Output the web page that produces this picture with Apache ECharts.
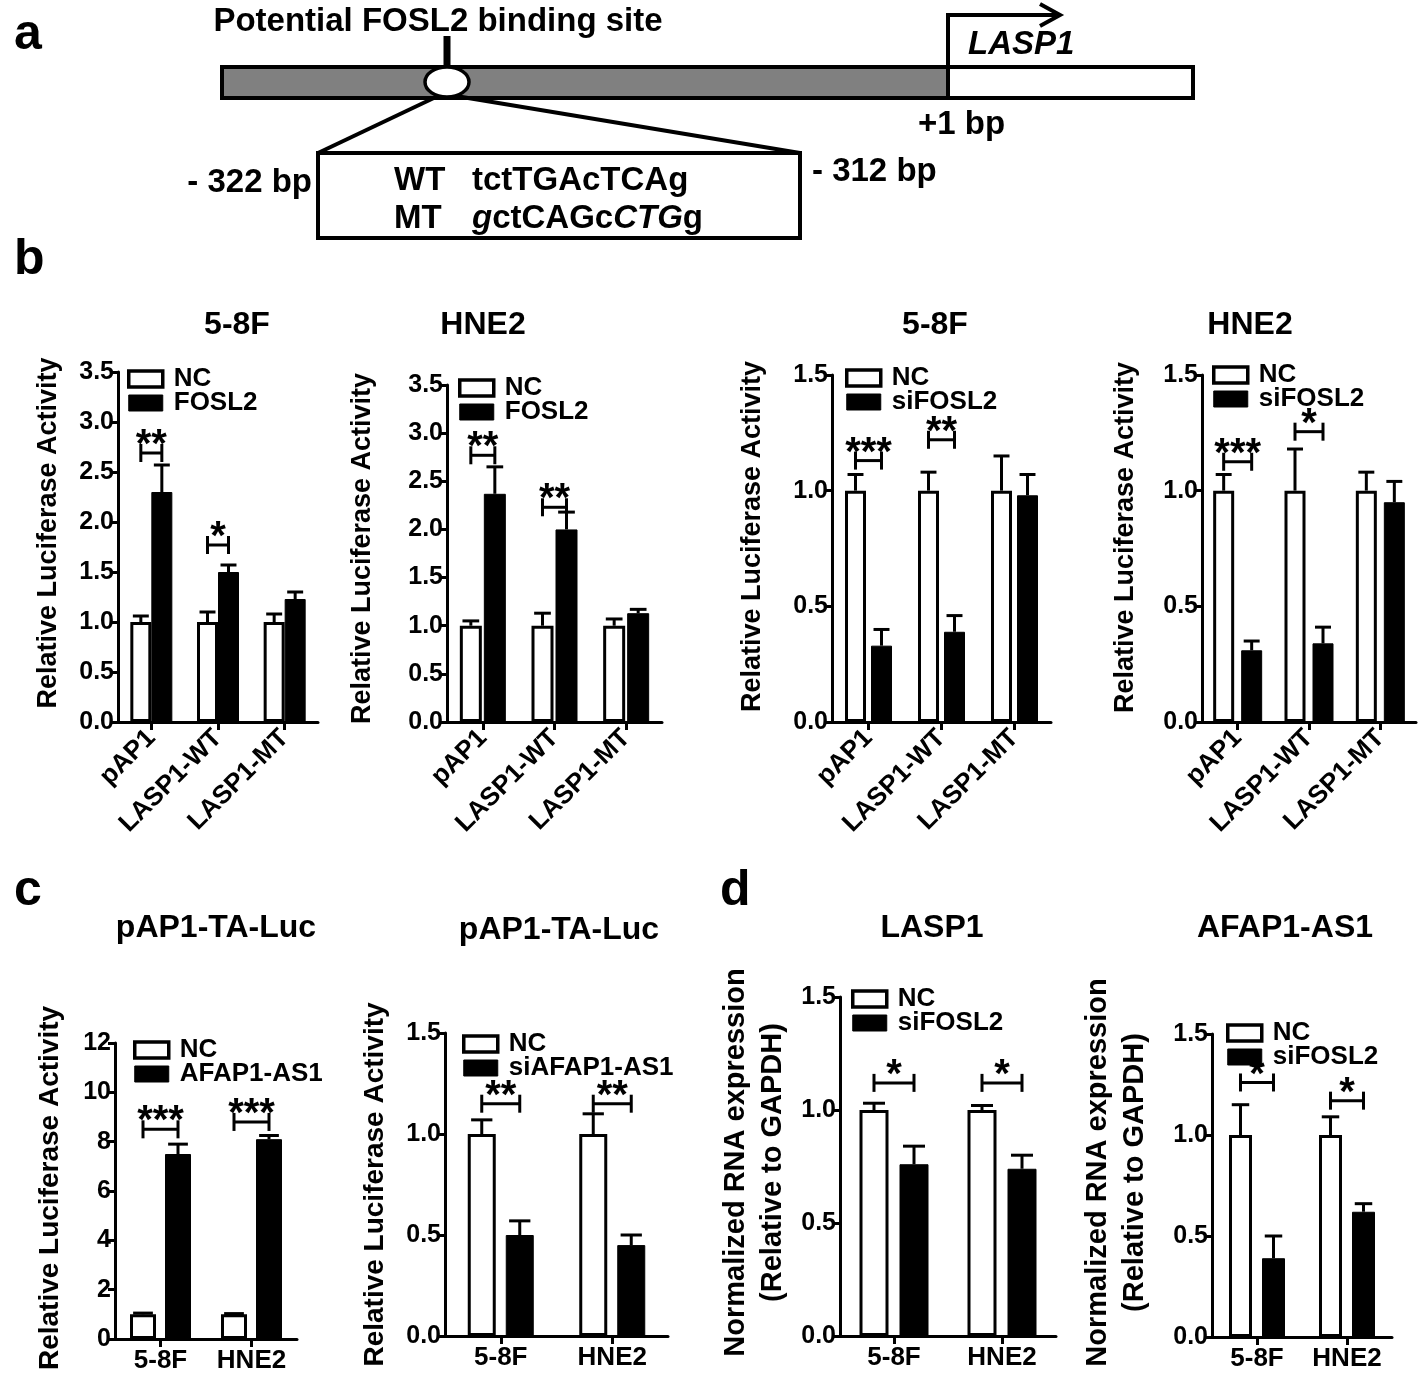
<!DOCTYPE html>
<html><head><meta charset="utf-8">
<script src="https://cdn.jsdelivr.net/npm/echarts@6/dist/echarts.min.js"></script>
<style>html,body{margin:0;padding:0;background:#fff}#c{width:1418px;height:1374px}</style>
</head><body><div id="c"></div>
<script>
// ---------- DATA ----------
const catsB = ['pAP1', 'LASP1-WT', 'LASP1-MT'];
const catsCD = ['5-8F', 'HNE2'];

// b1: 5-8F, NC vs FOSL2
const b1NC = [1.00, 1.00, 1.00];   const b1NCErr = [0.06, 0.10, 0.08];
const b1Tr = [2.30, 1.50, 1.23];   const b1TrErr = [0.27, 0.07, 0.07];
const b1Sig = [[0, 2.69, '**'], [1, 1.77, '*']];
// b2: HNE2, NC vs FOSL2
const b2NC = [1.00, 1.00, 1.00];   const b2NCErr = [0.05, 0.13, 0.07];
const b2Tr = [2.37, 2.00, 1.13];   const b2TrErr = [0.28, 0.18, 0.04];
const b2Sig = [[0, 2.77, '**'], [1, 2.23, '**']];
// b3: 5-8F, NC vs siFOSL2
const b3NC = [1.00, 1.00, 1.00];   const b3NCErr = [0.07, 0.08, 0.15];
const b3Tr = [0.33, 0.39, 0.98];   const b3TrErr = [0.07, 0.07, 0.09];
const b3Sig = [[0, 1.13, '***'], [1, 1.22, '**']];
// b4: HNE2, NC vs siFOSL2
const b4NC = [1.00, 1.00, 1.00];   const b4NCErr = [0.07, 0.18, 0.08];
const b4Tr = [0.31, 0.34, 0.95];   const b4TrErr = [0.04, 0.07, 0.09];
const b4Sig = [[0, 1.125, '***'], [1, 1.255, '*']];
// c1: pAP1-TA-Luc, NC vs AFAP1-AS1
const c1NC = [1.00, 1.00];         const c1NCErr = [0.05, 0.03];
const c1Tr = [7.50, 8.10];         const c1TrErr = [0.40, 0.15];
const c1Sig = [[0, 8.5, '***'], [1, 8.8, '***']];
// c2: pAP1-TA-Luc, NC vs siAFAP1-AS1
const c2NC = [1.00, 1.00];         const c2NCErr = [0.07, 0.10];
const c2Tr = [0.50, 0.45];         const c2TrErr = [0.07, 0.05];
const c2Sig = [[0, 1.15, '**'], [1, 1.15, '**']];
// d1: LASP1, NC vs siFOSL2
const d1NC = [1.00, 1.00];         const d1NCErr = [0.03, 0.02];
const d1Tr = [0.76, 0.74];         const d1TrErr = [0.08, 0.06];
const d1Sig = [[0, 1.12, '*'], [1, 1.12, '*']];
// d2: AFAP1-AS1, NC vs siFOSL2
const d2NC = [1.00, 1.00];         const d2NCErr = [0.15, 0.09];
const d2Tr = [0.39, 0.62];         const d2TrErr = [0.11, 0.04];
const d2Sig = [[0, 1.26, '*'], [1, 1.17, '*']];

// ---------- LAYOUT ----------
const FONT = '"Liberation Sans", Arial, Helvetica, sans-serif';
const LUC = 'Relative Luciferase Activity';
const RNA = 'Normalized RNA expression\n(Relative to GAPDH)';
const panels = [
  {title:'5-8F', tx:237, ty:325, cats:catsB, nc:b1NC, ncErr:b1NCErr, tr:b1Tr, trErr:b1TrErr, trName:'FOSL2', sig:b1Sig,
   max:3.5, interval:0.5, dec:1, grid:[118,372,200,350], w:21, gap:0, rotate:45, yName:LUC, nameSize:27, nameGap:51, nameShift:28, leg:[127,366]},
  {title:'HNE2', tx:483, ty:325, cats:catsB, nc:b2NC, ncErr:b2NCErr, tr:b2Tr, trErr:b2TrErr, trName:'FOSL2', sig:b2Sig,
   max:3.5, interval:0.5, dec:1, grid:[447,385,215,337], w:22, gap:2, rotate:45, yName:LUC, nameSize:27, nameGap:66, nameShift:10, leg:[458,375]},
  {title:'5-8F', tx:935, ty:325, cats:catsB, nc:b3NC, ncErr:b3NCErr, tr:b3Tr, trErr:b3TrErr, trName:'siFOSL2', sig:b3Sig,
   max:1.5, interval:0.5, dec:1, grid:[832,375,219,347], w:21, gap:5, rotate:45, yName:LUC, nameSize:27, nameGap:61, nameShift:24, leg:[845,365]},
  {title:'HNE2', tx:1250, ty:325, cats:catsB, nc:b4NC, ncErr:b4NCErr, tr:b4Tr, trErr:b4TrErr, trName:'siFOSL2', sig:b4Sig,
   max:1.5, interval:0.5, dec:1, grid:[1202,375,214,347], w:21, gap:7, rotate:45, yName:LUC, nameSize:27, nameGap:58, nameShift:22, leg:[1212,362]},
  {title:'pAP1-TA-Luc', tx:216, ty:928, cats:catsCD, nc:c1NC, ncErr:c1NCErr, tr:c1Tr, trErr:c1TrErr, trName:'AFAP1-AS1', sig:c1Sig,
   max:12, interval:2, dec:0, grid:[115,1043,182,296], w:26, gap:9, rotate:0, yName:LUC, nameSize:28, nameGap:46, nameShift:6, leg:[133,1037]},
  {title:'pAP1-TA-Luc', tx:559, ty:930, cats:catsCD, nc:c2NC, ncErr:c2NCErr, tr:c2Tr, trErr:c2TrErr, trName:'siAFAP1-AS1', sig:c2Sig,
   max:1.5, interval:0.5, dec:1, grid:[445,1033,223,303], w:28, gap:10, rotate:0, yName:LUC, nameSize:28, nameGap:51, nameShift:0, leg:[462,1031]},
  {title:'LASP1', tx:932, ty:928, cats:catsCD, nc:d1NC, ncErr:d1NCErr, tr:d1Tr, trErr:d1TrErr, trName:'siFOSL2', sig:d1Sig,
   max:1.5, interval:0.5, dec:1, grid:[840,997,216,339], w:29, gap:11, rotate:0, yName:RNA, nameSize:29, nameGap:49, nameShift:8, leg:[851,986]},
  {title:'AFAP1-AS1', tx:1285, ty:928, cats:catsCD, nc:d2NC, ncErr:d2NCErr, tr:d2Tr, trErr:d2TrErr, trName:'siFOSL2', sig:d2Sig,
   max:1.5, interval:0.5, dec:1, grid:[1212,1034,180,303], w:23, gap:10, rotate:0, yName:RNA, nameSize:29, nameGap:59, nameShift:26, leg:[1226,1020]}
];

const LW = 3;
const grids = [], xAxes = [], yAxes = [], series = [], legends = [], titles = [];

function errRender(p) {
  return function (params, api) {
    const cat = api.value(0), s = api.value(1), v = api.value(2), e = api.value(3);
    const b = api.coord([cat, v]), t = api.coord([cat, v + e]);
    const x = b[0] + (p.w + p.gap) / 2 * (s === 0 ? -1 : 1);
    const hw = p.w * 0.38;
    return {type:'group', children:[
      {type:'line', shape:{x1:x, y1:b[1], x2:x, y2:t[1]}, style:{stroke:'#000', lineWidth:LW}},
      {type:'line', shape:{x1:x-hw, y1:t[1], x2:x+hw, y2:t[1]}, style:{stroke:'#000', lineWidth:LW}}
    ]};
  };
}
function sigRender(p) {
  return function (params, api) {
    const cat = api.value(0), h = api.value(1);
    const label = p.sig[params.dataIndex][2];
    const c = api.coord([cat, h]);
    const off = (p.w + p.gap) / 2;
    const x1 = c[0] - off, x2 = c[0] + off, y = c[1];
    return {type:'group', children:[
      {type:'line', shape:{x1:x1, y1:y, x2:x2, y2:y}, style:{stroke:'#000', lineWidth:LW}},
      {type:'line', shape:{x1:x1, y1:y-9, x2:x1, y2:y+9}, style:{stroke:'#000', lineWidth:LW}},
      {type:'line', shape:{x1:x2, y1:y-9, x2:x2, y2:y+9}, style:{stroke:'#000', lineWidth:LW}},
      {type:'text', style:{text:label, x:(x1+x2)/2, y:y-7, align:'center', verticalAlign:'middle',
        font:'bold 40px ' + FONT, fill:'#000'}}
    ]};
  };
}

panels.forEach(function (p, i) {
  grids.push({left:p.grid[0], top:p.grid[1], width:p.grid[2], height:p.grid[3], containLabel:false, outerBoundsMode:'none'});
  xAxes.push({type:'category', gridIndex:i, data:p.cats, boundaryGap:true,
    axisLine:{show:true, lineStyle:{color:'#000', width:LW}},
    axisTick:{show:true, alignWithLabel:true, length:8, lineStyle:{color:'#000', width:LW}},
    axisLabel:{interval:0, rotate:p.rotate, margin:p.rotate ? 12 : 9, color:'#000', fontFamily:FONT, fontWeight:'bold', fontSize:26},
    splitLine:{show:false}});
  yAxes.push({type:'value', gridIndex:i, min:0, max:p.max, interval:p.interval,
    name:p.yName, nameLocation:'middle', nameRotate:90, nameGap:p.nameGap,
    nameTextStyle:{color:'#000', fontFamily:FONT, fontWeight:'bold', fontSize:p.nameSize, lineHeight:37,
      padding:[0, 0, 0, p.nameShift]},
    axisLine:{show:true, lineStyle:{color:'#000', width:LW}},
    axisTick:{show:true, length:7, lineStyle:{color:'#000', width:LW}},
    axisLabel:{color:'#000', fontFamily:FONT, fontWeight:'bold', fontSize:25, margin:4,
      formatter:function (v) { return v.toFixed(p.dec); }},
    splitLine:{show:false}});
  const gapPct = (p.gap / p.w * 100) + '%';
  series.push({type:'bar', name:'NC', xAxisIndex:i, yAxisIndex:i, data:p.nc, barWidth:p.w, barGap:gapPct,
    itemStyle:{color:'#fff', borderColor:'#000', borderWidth:LW}, silent:true, animation:false});
  series.push({type:'bar', name:p.trName, xAxisIndex:i, yAxisIndex:i, data:p.tr, barWidth:p.w, barGap:gapPct,
    itemStyle:{color:'#000', borderColor:'#000', borderWidth:1}, silent:true, animation:false});
  const errData = [];
  p.nc.forEach(function (v, k) { errData.push([k, 0, v, p.ncErr[k]]); });
  p.tr.forEach(function (v, k) { errData.push([k, 1, v, p.trErr[k]]); });
  series.push({type:'custom', xAxisIndex:i, yAxisIndex:i, data:errData, renderItem:errRender(p),
    encode:{x:0, y:2}, z:5, silent:true, clip:false, animation:false});
  series.push({type:'custom', xAxisIndex:i, yAxisIndex:i, data:p.sig.map(function (s) { return [s[0], s[1]]; }),
    renderItem:sigRender(p), encode:{x:0, y:1}, z:5, silent:true, clip:false, animation:false});
  legends.push({left:p.leg[0], top:p.leg[1], orient:'vertical', icon:'rect',
    data:[{name:'NC', itemStyle:{color:'#fff', borderColor:'#000', borderWidth:3.5}},
          {name:p.trName, itemStyle:{color:'#000', borderColor:'#000', borderWidth:1}}],
    itemWidth:34, itemHeight:16, itemGap:-2, selectedMode:false, padding:0,
    textStyle:{color:'#000', fontFamily:FONT, fontWeight:'bold', fontSize:26, padding:[0,0,0,6]}});
  titles.push({text:p.title, left:p.tx, top:p.ty, textAlign:'center', textVerticalAlign:'middle', padding:0,
    textStyle:{color:'#000', fontFamily:FONT, fontWeight:'bold', fontSize:32}});
});

// ---------- PANEL a diagram & panel letters ----------
const AF = 33;
const mctx = document.createElement('canvas').getContext('2d');
function tw(t, it) { mctx.font = (it ? 'italic ' : '') + 'bold ' + AF + 'px ' + FONT; return mctx.measureText(t).width; }
function txt(t, x, y, opt) {
  opt = opt || {};
  return {type:'text', x:x, y:y, silent:true, style:{text:t, fill:'#000',
    font:(opt.italic ? 'italic ' : '') + 'bold ' + (opt.size || AF) + 'px ' + FONT,
    align:opt.align || 'left', verticalAlign:'middle'}};
}
const graphics = [];
['a', 'b', 'c', 'd'].forEach(function (l, k) {
  const pos = [[14, 35], [14, 260], [14, 891], [720, 891]][k];
  graphics.push(txt(l, pos[0], pos[1], {size:50}));
});
graphics.push({type:'rect', shape:{x:222, y:67, width:726, height:31}, style:{fill:'#808080', stroke:'#000', lineWidth:4}});
graphics.push({type:'rect', shape:{x:948, y:67, width:245, height:31}, style:{fill:'#fff', stroke:'#000', lineWidth:4}});
graphics.push({type:'line', shape:{x1:447, y1:36, x2:447, y2:68}, style:{stroke:'#000', lineWidth:7}});
graphics.push({type:'line', shape:{x1:438, y1:96, x2:318, y2:153}, style:{stroke:'#000', lineWidth:4}});
graphics.push({type:'line', shape:{x1:456, y1:96, x2:800, y2:153}, style:{stroke:'#000', lineWidth:4}});
graphics.push({type:'ellipse', shape:{cx:447, cy:82, rx:22, ry:15}, style:{fill:'#fff', stroke:'#000', lineWidth:3.5}});
graphics.push({type:'polyline', shape:{points:[[948, 67], [948, 15], [1056, 15]]}, style:{fill:null, stroke:'#000', lineWidth:4}});
graphics.push({type:'polyline', shape:{points:[[1040, 4], [1060, 15], [1040, 26]]}, style:{fill:null, stroke:'#000', lineWidth:4}});
graphics.push({type:'rect', shape:{x:318, y:153, width:482, height:85}, style:{fill:'#fff', stroke:'#000', lineWidth:4}});
graphics.push(txt('Potential FOSL2 binding site', 438, 22, {align:'center'}));
graphics.push(txt('LASP1', 968, 45, {italic:true}));
graphics.push(txt('+1 bp', 918, 125));
graphics.push(txt('- 322 bp', 312, 183, {align:'right'}));
graphics.push(txt('- 312 bp', 812, 172));
graphics.push(txt('WT', 394, 181));
graphics.push(txt('tctTGAcTCAg', 472, 181));
graphics.push(txt('MT', 394, 219));
// MT sequence: mutated bases italic, some underlined
const segs = [['g', true, true], ['ct', false, false], ['CAG', false, false], ['c', false, false], ['CTG', true, true], ['g', false, false]];
let sx = 472;
segs.forEach(function (s) {
  graphics.push(txt(s[0], sx, 219, {italic:s[1]}));
  const w = tw(s[0], s[1]);
  if (s[2]) graphics.push({type:'line', shape:{x1:sx + 1, y1:237, x2:sx + w - 1, y2:237}, style:{stroke:'#000', lineWidth:2}});
  sx += w;
});

const chart = echarts.init(document.getElementById('c'), null, {renderer:'canvas'});
chart.setOption({
  backgroundColor:'#fff', animation:false,
  title:titles, grid:grids, xAxis:xAxes, yAxis:yAxes, legend:legends, series:series,
  graphic:{elements:graphics}
});
</script></body></html>
